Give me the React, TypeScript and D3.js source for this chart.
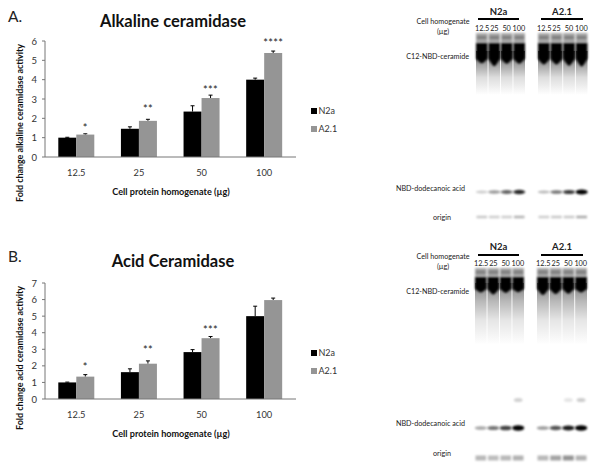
import React from "react";
import * as d3 from "d3";

const FONT = "Lato, 'Open Sans', sans-serif";
const doses = ["12.5", "25", "50", "100"];
const series = ["N2a", "A2.1"];
const colors = ["#000000", "#959595"];

const alkN2a = [1.0, 1.46, 2.35, 4.0];
const alkN2aErr = [0.02, 0.1, 0.3, 0.08];
const alkA21 = [1.16, 1.87, 3.05, 5.38];
const alkA21Err = [0.04, 0.08, 0.15, 0.1];
const alkStars = ["*", "**", "***", "****"];
const alkStarLevels = [1.6, 2.55, 3.55, 5.95];

const acidN2a = [1.0, 1.62, 2.83, 5.0];
const acidN2aErr = [0.02, 0.2, 0.15, 0.6];
const acidA21 = [1.35, 2.13, 3.67, 5.97];
const acidA21Err = [0.12, 0.17, 0.1, 0.12];
const acidStars = ["*", "**", "***", ""];
const acidStarLevels = [2.0, 3.05, 4.25, 0];

const gel1Front = [[0.55, 0.9, 0.6, 0.6], [0.7, 0.7, 0.85, 0.95]];
const gel1Product = [[0.2, 0.4, 0.62, 0.85], [0.28, 0.55, 0.78, 1.0]];
const gel1Origin = [[0.22, 0.2, 0.2, 0.3], [0.2, 0.22, 0.22, 0.34]];
const gel2Front = [[0.6, 0.95, 0.65, 0.55], [1.0, 0.85, 0.8, 0.6]];
const gel2Product = [[0.35, 0.55, 0.75, 1.0], [0.4, 0.68, 0.9, 1.0]];
const gel2Origin = [[0.28, 0.26, 0.28, 0.3], [0.28, 0.36, 0.42, 0.3]];
const gel2Spot = [[0, 0, 0, 0.18], [0, 0, 0.1, 0.2]];

function BarPanel(p: any) {
  const { title, letter, top, y0, y1, max, ylabel, a, ae, b, be, stars, levels, tx, ylabelY } = p;
  const x = d3.scaleBand().domain(doses).range([45, 295.5]);
  const inner = d3.scaleBand().domain(series).range([0, 36]);
  const y = d3.scaleLinear().domain([0, max]).range([y0, y1]);
  const off = (62.6 - 36) / 2;
  const vals = [a, b];
  const errs = [ae, be];
  const ticks = d3.range(0, max + 1);
  return (
    <g fontFamily={FONT}>
      <text x={8} y={top + 22} fontSize={15.5} fill="#222">{letter}</text>
      <text x={tx} y={top + 27} fontSize={16.5} fontWeight={700} textAnchor="middle" fill="#111">{title}</text>
      {series.map((s, si) =>
        doses.map((d, i) => {
          const bx = x(d)! + off + inner(s)!;
          const w = inner.bandwidth();
          const yv = y(vals[si][i]);
          const ye = y(vals[si][i] + errs[si][i]);
          const mx = bx + w / 2;
          return (
            <g key={s + d}>
              <line x1={mx} x2={mx} y1={yv} y2={ye} stroke="#000" strokeWidth={1} />
              <line x1={mx - 2} x2={mx + 2} y1={ye} y2={ye} stroke="#000" strokeWidth={1} />
              <rect x={bx} y={yv} width={w} height={y0 - yv} fill={colors[si]} />
            </g>
          );
        })
      )}
      <line x1={45} x2={296} y1={y0} y2={y0} stroke="#777" strokeWidth={1} />
      <line x1={45} x2={45} y1={y1} y2={y0} stroke="#777" strokeWidth={1} />
      {ticks.map((t) => (
        <g key={t}>
          <line x1={42} x2={45} y1={y(t)} y2={y(t)} stroke="#777" />
          <text x={37} y={y(t) + 3.5} fontSize={9.5} textAnchor="end" fill="#333">{t}</text>
        </g>
      ))}
      {doses.map((d, i) => (
        <g key={d}>
          <text x={x(d)! + off + 18} y={y0 + 19} fontSize={9.3} textAnchor="middle" fill="#333">{d}</text>
          <text x={x(d)! + off + 27} y={y(levels[i]) + 5.5} fontSize={11} textAnchor="middle" fill="#222" letterSpacing={0.3}>{stars[i]}</text>
        </g>
      ))}
      <text x={171} y={y0 + 38} fontSize={9.1} fontWeight={700} textAnchor="middle" fill="#111">Cell protein homogenate (µg)</text>
      <text transform={`translate(23,${ylabelY}) rotate(-90)`} fontSize={8.9} fontWeight={700} textAnchor="middle" fill="#111">{ylabel}</text>
      {series.map((s, i) => (
        <g key={s}>
          <rect x={311} y={y0 - 49 + i * 18} width={6} height={6} fill={colors[i]} />
          <text x={318.5} y={y0 - 43 + i * 18} fontSize={9} fill="#333">{s}</text>
        </g>
      ))}
    </g>
  );
}

function Gel(p: any) {
  const { groups, top, dens, front, product, origin, spot, frontTop, frontH, smear, prodY, origY, origH, spotY, bandH, id } = p;
  const laneOf = (g: number) => d3.scaleBand().domain(doses).range(groups[g]).paddingInner(0.07);
  return (
    <g>
      <defs>
        <linearGradient id={id} x1="0" x2="0" y1="0" y2="1">
          <stop offset="0" stopColor="#000" stopOpacity={dens} />
          <stop offset="0.3" stopColor="#000" stopOpacity={dens * 0.55} />
          <stop offset="0.6" stopColor="#000" stopOpacity={dens * 0.2} />
          <stop offset="1" stopColor="#000" stopOpacity={0} />
        </linearGradient>
      </defs>
      {[0, 1].map((g) => {
        const lane = laneOf(g);
        return doses.map((d, i) => {
          const lx = lane(d)!;
          const w = lane.bandwidth();
          const fd = front[g][i];
          const bottom = frontTop + frontH * 0.66;
          const shape = d3.area<number>()
            .x((v) => lx + v * w)
            .y0(frontTop)
            .y1((v) => bottom + frontH * 0.4 * fd * (1 - Math.abs(v - 0.5) * 2))
            .curve(d3.curveBasis);
          const lift = frontH * 0.66;
          return (
            <g key={g + d}>
              <rect x={lx} y={top} width={w} height={frontTop - top} fill="#000" opacity={0.34} filter="url(#soft)" />
              <rect x={lx + 1} y={top + (frontTop - top) * 0.3} width={w - 2} height={3} fill="#000" opacity={0.25} filter="url(#soft)" />
              <rect x={lx} y={frontTop + lift * 0.5} width={w} height={smear} fill={`url(#${id})`} />
              <path d={shape([0, 0, 0.25, 0.5, 0.75, 1, 1])!} fill="#000" filter="url(#softer)" />
              <ellipse cx={lx + w / 2} cy={prodY} rx={w * 0.52} ry={bandH * (0.28 + product[g][i] * 0.32)} fill="#000" opacity={product[g][i]} filter="url(#soft)" />
              <rect x={lx + 0.5} y={origY - origH / 2} width={w - 1} height={origH} fill="#000" opacity={origin[g][i]} filter="url(#soft)" />
              {spot && spot[g][i] > 0 ? (
                <ellipse cx={lx + w / 2} cy={spotY} rx={w * 0.38} ry={2} fill="#000" opacity={spot[g][i]} filter="url(#soft)" />
              ) : null}
            </g>
          );
        });
      })}
    </g>
  );
}

function GelLabels(p: any) {
  const { groups, nameY, ruleY, cellY, laneY, c12Y, nbdY, origY } = p;
  return (
    <g fontFamily={FONT} fill="#222">
      {series.map((s, g) => {
        const lane = d3.scaleBand().domain(doses).range(groups[g]);
        const r = g === 0 ? [478, 519] : [541, 583];
        return (
          <g key={s}>
            <text x={(r[0] + r[1]) / 2} y={nameY} fontSize={9.5} fontWeight={700} textAnchor="middle">{s}</text>
            <line x1={r[0]} x2={r[1]} y1={ruleY} y2={ruleY} stroke="#000" strokeWidth={2} />
            {doses.map((d) => (
              <text key={d} x={lane(d)! + lane.bandwidth() / 2} y={laneY} fontSize={7.3} textAnchor="middle">{d}</text>
            ))}
          </g>
        );
      })}
      <text x={443} y={cellY} fontSize={7.2} textAnchor="middle">Cell homogenate</text>
      <text x={443} y={cellY + 10} fontSize={7.2} textAnchor="middle">(µg)</text>
      <text x={469} y={c12Y} fontSize={7.2} textAnchor="end">C12-NBD-ceramide</text>
      <text x={465} y={nbdY} fontSize={7.2} textAnchor="end">NBD-dodecanoic acid</text>
      <text x={442} y={origY} fontSize={7.2} textAnchor="middle">origin</text>
    </g>
  );
}

export default function App() {
  return (
    <svg width={600} height={470} style={{ position: "absolute", left: 0, top: 0, background: "#fff" }}>
      <defs>
        <filter id="soft" x="-30%" y="-100%" width="160%" height="300%">
          <feGaussianBlur stdDeviation="0.8" />
        </filter>
        <filter id="softer" x="-30%" y="-30%" width="160%" height="160%">
          <feGaussianBlur stdDeviation="1.1" />
        </filter>
      </defs>
      <BarPanel letter="A." title="Alkaline ceramidase" tx={173} top={0} y0={157} y1={41} max={6} ylabel="Fold change alkaline ceramidase activity" ylabelY={123}
        a={alkN2a} ae={alkN2aErr} b={alkA21} be={alkA21Err} stars={alkStars} levels={alkStarLevels} />
      <BarPanel letter="B." title="Acid Ceramidase" tx={173} top={240} y0={399} y1={283} max={7} ylabel="Fold change acid ceramidase activity" ylabelY={358}
        a={acidN2a} ae={acidN2aErr} b={acidA21} be={acidA21Err} stars={acidStars} levels={acidStarLevels} />

      <Gel id="g1" groups={[[476, 525], [538, 587.5]]} top={33} dens={0.68} front={gel1Front} product={gel1Product} origin={gel1Origin}
        frontTop={43} frontH={24} smear={44} prodY={192} origY={217} origH={2.5} bandH={4} />
      <GelLabels groups={[[476, 525], [538, 587.5]]} nameY={15} ruleY={19} cellY={24} laneY={31} c12Y={59} nbdY={191} origY={220} />

      <Gel id="g2" groups={[[475, 524], [537, 587]]} top={268} dens={0.5} front={gel2Front} product={gel2Product} origin={gel2Origin} spot={gel2Spot}
        frontTop={277} frontH={18} smear={62} prodY={428} origY={458} origH={5} spotY={400} bandH={4.5} />
      <GelLabels groups={[[475, 524], [537, 587]]} nameY={250} ruleY={255} cellY={259} laneY={266} c12Y={294} nbdY={426} origY={456} />
    </svg>
  );
}
